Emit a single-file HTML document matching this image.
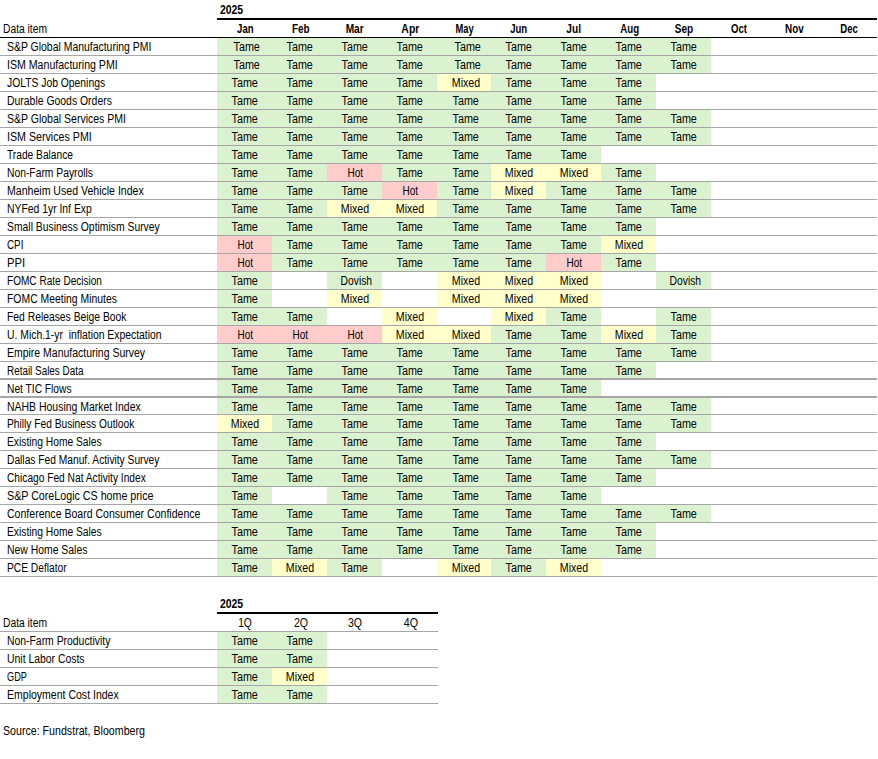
<!DOCTYPE html>
<html><head><meta charset="utf-8"><style>
html,body{margin:0;padding:0;background:#fff}
body{width:878px;height:759px;position:relative;overflow:hidden;font-family:"Liberation Sans",sans-serif;font-size:12px;color:#000}
.r{position:absolute}
.c,.l{position:absolute;height:17px;line-height:17px;white-space:nowrap}
.c{text-align:center}
.c span,.l span{display:inline-block}
.c span{transform-origin:50% 50%}
.l span{transform-origin:0 50%}
.b{font-weight:bold}
</style></head><body>
<div class="r" style="left:217px;top:18px;width:660px;height:2px;background:#000"></div>
<div class="r" style="left:0px;top:37px;width:877px;height:1px;background:#000"></div>
<div class="l b" style="left:220px;top:2px"><span style="transform:scaleX(0.8667)">2025</span></div>
<div class="l" style="left:3px;top:21px"><span style="transform:scaleX(0.8570)">Data item</span></div>
<div class="c b" style="left:218px;top:21px;width:55px"><span style="transform:scaleX(0.7988)">Jan</span></div>
<div class="c b" style="left:273px;top:21px;width:55px"><span style="transform:scaleX(0.8216)">Feb</span></div>
<div class="c b" style="left:327.5px;top:21px;width:55px"><span style="transform:scaleX(0.8476)">Mar</span></div>
<div class="c b" style="left:383px;top:21px;width:55px"><span style="transform:scaleX(0.8674)">Apr</span></div>
<div class="c b" style="left:438px;top:21px;width:54px"><span style="transform:scaleX(0.7772)">May</span></div>
<div class="c b" style="left:491px;top:21px;width:55px"><span style="transform:scaleX(0.7942)">Jun</span></div>
<div class="c b" style="left:546px;top:21px;width:55px"><span style="transform:scaleX(0.8427)">Jul</span></div>
<div class="c b" style="left:602px;top:21px;width:55px"><span style="transform:scaleX(0.8066)">Aug</span></div>
<div class="c b" style="left:657px;top:21px;width:55px"><span style="transform:scaleX(0.8351)">Sep</span></div>
<div class="c b" style="left:712px;top:21px;width:55px"><span style="transform:scaleX(0.7957)">Oct</span></div>
<div class="c b" style="left:767px;top:21px;width:55px"><span style="transform:scaleX(0.8251)">Nov</span></div>
<div class="c b" style="left:821px;top:21px;width:56px"><span style="transform:scaleX(0.7971)">Dec</span></div>
<div class="r" style="left:217px;top:38px;width:55px;height:17px;background:#daf2d0"></div>
<div class="r" style="left:272px;top:38px;width:55px;height:17px;background:#daf2d0"></div>
<div class="r" style="left:327px;top:38px;width:55px;height:17px;background:#daf2d0"></div>
<div class="r" style="left:382px;top:38px;width:55px;height:17px;background:#daf2d0"></div>
<div class="r" style="left:437px;top:38px;width:54px;height:17px;background:#daf2d0"></div>
<div class="r" style="left:491px;top:38px;width:55px;height:17px;background:#daf2d0"></div>
<div class="r" style="left:546px;top:38px;width:55px;height:17px;background:#daf2d0"></div>
<div class="r" style="left:601px;top:38px;width:55px;height:17px;background:#daf2d0"></div>
<div class="r" style="left:656px;top:38px;width:55px;height:17px;background:#daf2d0"></div>
<div class="r" style="left:0px;top:55px;width:877px;height:1px;background:#a6a6a6"></div>
<div class="r" style="left:217px;top:56px;width:55px;height:17px;background:#daf2d0"></div>
<div class="r" style="left:272px;top:56px;width:55px;height:17px;background:#daf2d0"></div>
<div class="r" style="left:327px;top:56px;width:55px;height:17px;background:#daf2d0"></div>
<div class="r" style="left:382px;top:56px;width:55px;height:17px;background:#daf2d0"></div>
<div class="r" style="left:437px;top:56px;width:54px;height:17px;background:#daf2d0"></div>
<div class="r" style="left:491px;top:56px;width:55px;height:17px;background:#daf2d0"></div>
<div class="r" style="left:546px;top:56px;width:55px;height:17px;background:#daf2d0"></div>
<div class="r" style="left:601px;top:56px;width:55px;height:17px;background:#daf2d0"></div>
<div class="r" style="left:656px;top:56px;width:55px;height:17px;background:#daf2d0"></div>
<div class="r" style="left:0px;top:73px;width:877px;height:1px;background:#a6a6a6"></div>
<div class="r" style="left:217px;top:74px;width:55px;height:17px;background:#daf2d0"></div>
<div class="r" style="left:272px;top:74px;width:55px;height:17px;background:#daf2d0"></div>
<div class="r" style="left:327px;top:74px;width:55px;height:17px;background:#daf2d0"></div>
<div class="r" style="left:382px;top:74px;width:55px;height:17px;background:#daf2d0"></div>
<div class="r" style="left:437px;top:74px;width:54px;height:17px;background:#ffffcc"></div>
<div class="r" style="left:491px;top:74px;width:55px;height:17px;background:#daf2d0"></div>
<div class="r" style="left:546px;top:74px;width:55px;height:17px;background:#daf2d0"></div>
<div class="r" style="left:601px;top:74px;width:55px;height:17px;background:#daf2d0"></div>
<div class="r" style="left:0px;top:91px;width:877px;height:1px;background:#a6a6a6"></div>
<div class="r" style="left:217px;top:92px;width:55px;height:17px;background:#daf2d0"></div>
<div class="r" style="left:272px;top:92px;width:55px;height:17px;background:#daf2d0"></div>
<div class="r" style="left:327px;top:92px;width:55px;height:17px;background:#daf2d0"></div>
<div class="r" style="left:382px;top:92px;width:55px;height:17px;background:#daf2d0"></div>
<div class="r" style="left:437px;top:92px;width:54px;height:17px;background:#daf2d0"></div>
<div class="r" style="left:491px;top:92px;width:55px;height:17px;background:#daf2d0"></div>
<div class="r" style="left:546px;top:92px;width:55px;height:17px;background:#daf2d0"></div>
<div class="r" style="left:601px;top:92px;width:55px;height:17px;background:#daf2d0"></div>
<div class="r" style="left:0px;top:109px;width:877px;height:1px;background:#a6a6a6"></div>
<div class="r" style="left:217px;top:110px;width:55px;height:17px;background:#daf2d0"></div>
<div class="r" style="left:272px;top:110px;width:55px;height:17px;background:#daf2d0"></div>
<div class="r" style="left:327px;top:110px;width:55px;height:17px;background:#daf2d0"></div>
<div class="r" style="left:382px;top:110px;width:55px;height:17px;background:#daf2d0"></div>
<div class="r" style="left:437px;top:110px;width:54px;height:17px;background:#daf2d0"></div>
<div class="r" style="left:491px;top:110px;width:55px;height:17px;background:#daf2d0"></div>
<div class="r" style="left:546px;top:110px;width:55px;height:17px;background:#daf2d0"></div>
<div class="r" style="left:601px;top:110px;width:55px;height:17px;background:#daf2d0"></div>
<div class="r" style="left:656px;top:110px;width:55px;height:17px;background:#daf2d0"></div>
<div class="r" style="left:0px;top:127px;width:877px;height:1px;background:#a6a6a6"></div>
<div class="r" style="left:217px;top:128px;width:55px;height:17px;background:#daf2d0"></div>
<div class="r" style="left:272px;top:128px;width:55px;height:17px;background:#daf2d0"></div>
<div class="r" style="left:327px;top:128px;width:55px;height:17px;background:#daf2d0"></div>
<div class="r" style="left:382px;top:128px;width:55px;height:17px;background:#daf2d0"></div>
<div class="r" style="left:437px;top:128px;width:54px;height:17px;background:#daf2d0"></div>
<div class="r" style="left:491px;top:128px;width:55px;height:17px;background:#daf2d0"></div>
<div class="r" style="left:546px;top:128px;width:55px;height:17px;background:#daf2d0"></div>
<div class="r" style="left:601px;top:128px;width:55px;height:17px;background:#daf2d0"></div>
<div class="r" style="left:656px;top:128px;width:55px;height:17px;background:#daf2d0"></div>
<div class="r" style="left:0px;top:145px;width:877px;height:1px;background:#a6a6a6"></div>
<div class="r" style="left:217px;top:146px;width:55px;height:17px;background:#daf2d0"></div>
<div class="r" style="left:272px;top:146px;width:55px;height:17px;background:#daf2d0"></div>
<div class="r" style="left:327px;top:146px;width:55px;height:17px;background:#daf2d0"></div>
<div class="r" style="left:382px;top:146px;width:55px;height:17px;background:#daf2d0"></div>
<div class="r" style="left:437px;top:146px;width:54px;height:17px;background:#daf2d0"></div>
<div class="r" style="left:491px;top:146px;width:55px;height:17px;background:#daf2d0"></div>
<div class="r" style="left:546px;top:146px;width:55px;height:17px;background:#daf2d0"></div>
<div class="r" style="left:0px;top:163px;width:877px;height:1px;background:#a6a6a6"></div>
<div class="r" style="left:217px;top:164px;width:55px;height:17px;background:#daf2d0"></div>
<div class="r" style="left:272px;top:164px;width:55px;height:17px;background:#daf2d0"></div>
<div class="r" style="left:327px;top:164px;width:55px;height:17px;background:#ffcccc"></div>
<div class="r" style="left:382px;top:164px;width:55px;height:17px;background:#daf2d0"></div>
<div class="r" style="left:437px;top:164px;width:54px;height:17px;background:#daf2d0"></div>
<div class="r" style="left:491px;top:164px;width:55px;height:17px;background:#ffffcc"></div>
<div class="r" style="left:546px;top:164px;width:55px;height:17px;background:#ffffcc"></div>
<div class="r" style="left:601px;top:164px;width:55px;height:17px;background:#daf2d0"></div>
<div class="r" style="left:0px;top:181px;width:877px;height:1px;background:#a6a6a6"></div>
<div class="r" style="left:217px;top:182px;width:55px;height:17px;background:#daf2d0"></div>
<div class="r" style="left:272px;top:182px;width:55px;height:17px;background:#daf2d0"></div>
<div class="r" style="left:327px;top:182px;width:55px;height:17px;background:#daf2d0"></div>
<div class="r" style="left:382px;top:182px;width:55px;height:17px;background:#ffcccc"></div>
<div class="r" style="left:437px;top:182px;width:54px;height:17px;background:#daf2d0"></div>
<div class="r" style="left:491px;top:182px;width:55px;height:17px;background:#ffffcc"></div>
<div class="r" style="left:546px;top:182px;width:55px;height:17px;background:#daf2d0"></div>
<div class="r" style="left:601px;top:182px;width:55px;height:17px;background:#daf2d0"></div>
<div class="r" style="left:656px;top:182px;width:55px;height:17px;background:#daf2d0"></div>
<div class="r" style="left:0px;top:199px;width:877px;height:1px;background:#a6a6a6"></div>
<div class="r" style="left:217px;top:200px;width:55px;height:17px;background:#daf2d0"></div>
<div class="r" style="left:272px;top:200px;width:55px;height:17px;background:#daf2d0"></div>
<div class="r" style="left:327px;top:200px;width:55px;height:17px;background:#ffffcc"></div>
<div class="r" style="left:382px;top:200px;width:55px;height:17px;background:#ffffcc"></div>
<div class="r" style="left:437px;top:200px;width:54px;height:17px;background:#daf2d0"></div>
<div class="r" style="left:491px;top:200px;width:55px;height:17px;background:#daf2d0"></div>
<div class="r" style="left:546px;top:200px;width:55px;height:17px;background:#daf2d0"></div>
<div class="r" style="left:601px;top:200px;width:55px;height:17px;background:#daf2d0"></div>
<div class="r" style="left:656px;top:200px;width:55px;height:17px;background:#daf2d0"></div>
<div class="r" style="left:0px;top:217px;width:877px;height:1px;background:#a6a6a6"></div>
<div class="r" style="left:217px;top:218px;width:55px;height:17px;background:#daf2d0"></div>
<div class="r" style="left:272px;top:218px;width:55px;height:17px;background:#daf2d0"></div>
<div class="r" style="left:327px;top:218px;width:55px;height:17px;background:#daf2d0"></div>
<div class="r" style="left:382px;top:218px;width:55px;height:17px;background:#daf2d0"></div>
<div class="r" style="left:437px;top:218px;width:54px;height:17px;background:#daf2d0"></div>
<div class="r" style="left:491px;top:218px;width:55px;height:17px;background:#daf2d0"></div>
<div class="r" style="left:546px;top:218px;width:55px;height:17px;background:#daf2d0"></div>
<div class="r" style="left:601px;top:218px;width:55px;height:17px;background:#daf2d0"></div>
<div class="r" style="left:0px;top:235px;width:877px;height:1px;background:#a6a6a6"></div>
<div class="r" style="left:217px;top:236px;width:55px;height:17px;background:#ffcccc"></div>
<div class="r" style="left:272px;top:236px;width:55px;height:17px;background:#daf2d0"></div>
<div class="r" style="left:327px;top:236px;width:55px;height:17px;background:#daf2d0"></div>
<div class="r" style="left:382px;top:236px;width:55px;height:17px;background:#daf2d0"></div>
<div class="r" style="left:437px;top:236px;width:54px;height:17px;background:#daf2d0"></div>
<div class="r" style="left:491px;top:236px;width:55px;height:17px;background:#daf2d0"></div>
<div class="r" style="left:546px;top:236px;width:55px;height:17px;background:#daf2d0"></div>
<div class="r" style="left:601px;top:236px;width:55px;height:17px;background:#ffffcc"></div>
<div class="r" style="left:0px;top:253px;width:877px;height:1px;background:#a6a6a6"></div>
<div class="r" style="left:217px;top:254px;width:55px;height:17px;background:#ffcccc"></div>
<div class="r" style="left:272px;top:254px;width:55px;height:17px;background:#daf2d0"></div>
<div class="r" style="left:327px;top:254px;width:55px;height:17px;background:#daf2d0"></div>
<div class="r" style="left:382px;top:254px;width:55px;height:17px;background:#daf2d0"></div>
<div class="r" style="left:437px;top:254px;width:54px;height:17px;background:#daf2d0"></div>
<div class="r" style="left:491px;top:254px;width:55px;height:17px;background:#daf2d0"></div>
<div class="r" style="left:546px;top:254px;width:55px;height:17px;background:#ffcccc"></div>
<div class="r" style="left:601px;top:254px;width:55px;height:17px;background:#daf2d0"></div>
<div class="r" style="left:0px;top:271px;width:877px;height:1px;background:#a6a6a6"></div>
<div class="r" style="left:217px;top:272px;width:55px;height:17px;background:#daf2d0"></div>
<div class="r" style="left:327px;top:272px;width:55px;height:17px;background:#daf2d0"></div>
<div class="r" style="left:437px;top:272px;width:54px;height:17px;background:#ffffcc"></div>
<div class="r" style="left:491px;top:272px;width:55px;height:17px;background:#ffffcc"></div>
<div class="r" style="left:546px;top:272px;width:55px;height:17px;background:#ffffcc"></div>
<div class="r" style="left:656px;top:272px;width:55px;height:17px;background:#daf2d0"></div>
<div class="r" style="left:0px;top:289px;width:877px;height:1px;background:#a6a6a6"></div>
<div class="r" style="left:217px;top:290px;width:55px;height:17px;background:#daf2d0"></div>
<div class="r" style="left:327px;top:290px;width:55px;height:17px;background:#ffffcc"></div>
<div class="r" style="left:437px;top:290px;width:54px;height:17px;background:#ffffcc"></div>
<div class="r" style="left:491px;top:290px;width:55px;height:17px;background:#ffffcc"></div>
<div class="r" style="left:546px;top:290px;width:55px;height:17px;background:#ffffcc"></div>
<div class="r" style="left:0px;top:307px;width:877px;height:1px;background:#a6a6a6"></div>
<div class="r" style="left:217px;top:308px;width:55px;height:17px;background:#daf2d0"></div>
<div class="r" style="left:272px;top:308px;width:55px;height:17px;background:#daf2d0"></div>
<div class="r" style="left:382px;top:308px;width:55px;height:17px;background:#ffffcc"></div>
<div class="r" style="left:491px;top:308px;width:55px;height:17px;background:#ffffcc"></div>
<div class="r" style="left:546px;top:308px;width:55px;height:17px;background:#daf2d0"></div>
<div class="r" style="left:656px;top:308px;width:55px;height:17px;background:#daf2d0"></div>
<div class="r" style="left:0px;top:325px;width:877px;height:1px;background:#a6a6a6"></div>
<div class="r" style="left:217px;top:326px;width:55px;height:17px;background:#ffcccc"></div>
<div class="r" style="left:272px;top:326px;width:55px;height:17px;background:#ffcccc"></div>
<div class="r" style="left:327px;top:326px;width:55px;height:17px;background:#ffcccc"></div>
<div class="r" style="left:382px;top:326px;width:55px;height:17px;background:#ffffcc"></div>
<div class="r" style="left:437px;top:326px;width:54px;height:17px;background:#ffffcc"></div>
<div class="r" style="left:491px;top:326px;width:55px;height:17px;background:#daf2d0"></div>
<div class="r" style="left:546px;top:326px;width:55px;height:17px;background:#daf2d0"></div>
<div class="r" style="left:601px;top:326px;width:55px;height:17px;background:#ffffcc"></div>
<div class="r" style="left:656px;top:326px;width:55px;height:17px;background:#daf2d0"></div>
<div class="r" style="left:0px;top:343px;width:877px;height:1px;background:#a6a6a6"></div>
<div class="r" style="left:217px;top:344px;width:55px;height:17px;background:#daf2d0"></div>
<div class="r" style="left:272px;top:344px;width:55px;height:17px;background:#daf2d0"></div>
<div class="r" style="left:327px;top:344px;width:55px;height:17px;background:#daf2d0"></div>
<div class="r" style="left:382px;top:344px;width:55px;height:17px;background:#daf2d0"></div>
<div class="r" style="left:437px;top:344px;width:54px;height:17px;background:#daf2d0"></div>
<div class="r" style="left:491px;top:344px;width:55px;height:17px;background:#daf2d0"></div>
<div class="r" style="left:546px;top:344px;width:55px;height:17px;background:#daf2d0"></div>
<div class="r" style="left:601px;top:344px;width:55px;height:17px;background:#daf2d0"></div>
<div class="r" style="left:656px;top:344px;width:55px;height:17px;background:#daf2d0"></div>
<div class="r" style="left:0px;top:361px;width:877px;height:1px;background:#a6a6a6"></div>
<div class="r" style="left:217px;top:362px;width:55px;height:16px;background:#daf2d0"></div>
<div class="r" style="left:272px;top:362px;width:55px;height:16px;background:#daf2d0"></div>
<div class="r" style="left:327px;top:362px;width:55px;height:16px;background:#daf2d0"></div>
<div class="r" style="left:382px;top:362px;width:55px;height:16px;background:#daf2d0"></div>
<div class="r" style="left:437px;top:362px;width:54px;height:16px;background:#daf2d0"></div>
<div class="r" style="left:491px;top:362px;width:55px;height:16px;background:#daf2d0"></div>
<div class="r" style="left:546px;top:362px;width:55px;height:16px;background:#daf2d0"></div>
<div class="r" style="left:601px;top:362px;width:55px;height:16px;background:#daf2d0"></div>
<div class="r" style="left:0px;top:378px;width:877px;height:2px;background:#a6a6a6"></div>
<div class="r" style="left:217px;top:380px;width:55px;height:16px;background:#daf2d0"></div>
<div class="r" style="left:272px;top:380px;width:55px;height:16px;background:#daf2d0"></div>
<div class="r" style="left:327px;top:380px;width:55px;height:16px;background:#daf2d0"></div>
<div class="r" style="left:382px;top:380px;width:55px;height:16px;background:#daf2d0"></div>
<div class="r" style="left:437px;top:380px;width:54px;height:16px;background:#daf2d0"></div>
<div class="r" style="left:491px;top:380px;width:55px;height:16px;background:#daf2d0"></div>
<div class="r" style="left:546px;top:380px;width:55px;height:16px;background:#daf2d0"></div>
<div class="r" style="left:0px;top:396px;width:877px;height:2px;background:#a6a6a6"></div>
<div class="r" style="left:217px;top:398px;width:55px;height:16px;background:#daf2d0"></div>
<div class="r" style="left:272px;top:398px;width:55px;height:16px;background:#daf2d0"></div>
<div class="r" style="left:327px;top:398px;width:55px;height:16px;background:#daf2d0"></div>
<div class="r" style="left:382px;top:398px;width:55px;height:16px;background:#daf2d0"></div>
<div class="r" style="left:437px;top:398px;width:54px;height:16px;background:#daf2d0"></div>
<div class="r" style="left:491px;top:398px;width:55px;height:16px;background:#daf2d0"></div>
<div class="r" style="left:546px;top:398px;width:55px;height:16px;background:#daf2d0"></div>
<div class="r" style="left:601px;top:398px;width:55px;height:16px;background:#daf2d0"></div>
<div class="r" style="left:656px;top:398px;width:55px;height:16px;background:#daf2d0"></div>
<div class="r" style="left:0px;top:414px;width:877px;height:1px;background:#a6a6a6"></div>
<div class="r" style="left:217px;top:415px;width:55px;height:17px;background:#ffffcc"></div>
<div class="r" style="left:272px;top:415px;width:55px;height:17px;background:#daf2d0"></div>
<div class="r" style="left:327px;top:415px;width:55px;height:17px;background:#daf2d0"></div>
<div class="r" style="left:382px;top:415px;width:55px;height:17px;background:#daf2d0"></div>
<div class="r" style="left:437px;top:415px;width:54px;height:17px;background:#daf2d0"></div>
<div class="r" style="left:491px;top:415px;width:55px;height:17px;background:#daf2d0"></div>
<div class="r" style="left:546px;top:415px;width:55px;height:17px;background:#daf2d0"></div>
<div class="r" style="left:601px;top:415px;width:55px;height:17px;background:#daf2d0"></div>
<div class="r" style="left:656px;top:415px;width:55px;height:17px;background:#daf2d0"></div>
<div class="r" style="left:0px;top:432px;width:877px;height:1px;background:#a6a6a6"></div>
<div class="r" style="left:217px;top:433px;width:55px;height:17px;background:#daf2d0"></div>
<div class="r" style="left:272px;top:433px;width:55px;height:17px;background:#daf2d0"></div>
<div class="r" style="left:327px;top:433px;width:55px;height:17px;background:#daf2d0"></div>
<div class="r" style="left:382px;top:433px;width:55px;height:17px;background:#daf2d0"></div>
<div class="r" style="left:437px;top:433px;width:54px;height:17px;background:#daf2d0"></div>
<div class="r" style="left:491px;top:433px;width:55px;height:17px;background:#daf2d0"></div>
<div class="r" style="left:546px;top:433px;width:55px;height:17px;background:#daf2d0"></div>
<div class="r" style="left:601px;top:433px;width:55px;height:17px;background:#daf2d0"></div>
<div class="r" style="left:0px;top:450px;width:877px;height:1px;background:#a6a6a6"></div>
<div class="r" style="left:217px;top:451px;width:55px;height:17px;background:#daf2d0"></div>
<div class="r" style="left:272px;top:451px;width:55px;height:17px;background:#daf2d0"></div>
<div class="r" style="left:327px;top:451px;width:55px;height:17px;background:#daf2d0"></div>
<div class="r" style="left:382px;top:451px;width:55px;height:17px;background:#daf2d0"></div>
<div class="r" style="left:437px;top:451px;width:54px;height:17px;background:#daf2d0"></div>
<div class="r" style="left:491px;top:451px;width:55px;height:17px;background:#daf2d0"></div>
<div class="r" style="left:546px;top:451px;width:55px;height:17px;background:#daf2d0"></div>
<div class="r" style="left:601px;top:451px;width:55px;height:17px;background:#daf2d0"></div>
<div class="r" style="left:656px;top:451px;width:55px;height:17px;background:#daf2d0"></div>
<div class="r" style="left:0px;top:468px;width:877px;height:1px;background:#a6a6a6"></div>
<div class="r" style="left:217px;top:469px;width:55px;height:17px;background:#daf2d0"></div>
<div class="r" style="left:272px;top:469px;width:55px;height:17px;background:#daf2d0"></div>
<div class="r" style="left:327px;top:469px;width:55px;height:17px;background:#daf2d0"></div>
<div class="r" style="left:382px;top:469px;width:55px;height:17px;background:#daf2d0"></div>
<div class="r" style="left:437px;top:469px;width:54px;height:17px;background:#daf2d0"></div>
<div class="r" style="left:491px;top:469px;width:55px;height:17px;background:#daf2d0"></div>
<div class="r" style="left:546px;top:469px;width:55px;height:17px;background:#daf2d0"></div>
<div class="r" style="left:601px;top:469px;width:55px;height:17px;background:#daf2d0"></div>
<div class="r" style="left:0px;top:486px;width:877px;height:1px;background:#a6a6a6"></div>
<div class="r" style="left:217px;top:487px;width:55px;height:17px;background:#daf2d0"></div>
<div class="r" style="left:327px;top:487px;width:55px;height:17px;background:#daf2d0"></div>
<div class="r" style="left:382px;top:487px;width:55px;height:17px;background:#daf2d0"></div>
<div class="r" style="left:437px;top:487px;width:54px;height:17px;background:#daf2d0"></div>
<div class="r" style="left:491px;top:487px;width:55px;height:17px;background:#daf2d0"></div>
<div class="r" style="left:546px;top:487px;width:55px;height:17px;background:#daf2d0"></div>
<div class="r" style="left:0px;top:504px;width:877px;height:1px;background:#a6a6a6"></div>
<div class="r" style="left:217px;top:505px;width:55px;height:17px;background:#daf2d0"></div>
<div class="r" style="left:272px;top:505px;width:55px;height:17px;background:#daf2d0"></div>
<div class="r" style="left:327px;top:505px;width:55px;height:17px;background:#daf2d0"></div>
<div class="r" style="left:382px;top:505px;width:55px;height:17px;background:#daf2d0"></div>
<div class="r" style="left:437px;top:505px;width:54px;height:17px;background:#daf2d0"></div>
<div class="r" style="left:491px;top:505px;width:55px;height:17px;background:#daf2d0"></div>
<div class="r" style="left:546px;top:505px;width:55px;height:17px;background:#daf2d0"></div>
<div class="r" style="left:601px;top:505px;width:55px;height:17px;background:#daf2d0"></div>
<div class="r" style="left:656px;top:505px;width:55px;height:17px;background:#daf2d0"></div>
<div class="r" style="left:0px;top:522px;width:877px;height:1px;background:#a6a6a6"></div>
<div class="r" style="left:217px;top:523px;width:55px;height:17px;background:#daf2d0"></div>
<div class="r" style="left:272px;top:523px;width:55px;height:17px;background:#daf2d0"></div>
<div class="r" style="left:327px;top:523px;width:55px;height:17px;background:#daf2d0"></div>
<div class="r" style="left:382px;top:523px;width:55px;height:17px;background:#daf2d0"></div>
<div class="r" style="left:437px;top:523px;width:54px;height:17px;background:#daf2d0"></div>
<div class="r" style="left:491px;top:523px;width:55px;height:17px;background:#daf2d0"></div>
<div class="r" style="left:546px;top:523px;width:55px;height:17px;background:#daf2d0"></div>
<div class="r" style="left:601px;top:523px;width:55px;height:17px;background:#daf2d0"></div>
<div class="r" style="left:0px;top:540px;width:877px;height:1px;background:#a6a6a6"></div>
<div class="r" style="left:217px;top:541px;width:55px;height:17px;background:#daf2d0"></div>
<div class="r" style="left:272px;top:541px;width:55px;height:17px;background:#daf2d0"></div>
<div class="r" style="left:327px;top:541px;width:55px;height:17px;background:#daf2d0"></div>
<div class="r" style="left:382px;top:541px;width:55px;height:17px;background:#daf2d0"></div>
<div class="r" style="left:437px;top:541px;width:54px;height:17px;background:#daf2d0"></div>
<div class="r" style="left:491px;top:541px;width:55px;height:17px;background:#daf2d0"></div>
<div class="r" style="left:546px;top:541px;width:55px;height:17px;background:#daf2d0"></div>
<div class="r" style="left:601px;top:541px;width:55px;height:17px;background:#daf2d0"></div>
<div class="r" style="left:0px;top:558px;width:877px;height:1px;background:#a6a6a6"></div>
<div class="r" style="left:217px;top:559px;width:55px;height:17px;background:#daf2d0"></div>
<div class="r" style="left:272px;top:559px;width:55px;height:17px;background:#ffffcc"></div>
<div class="r" style="left:327px;top:559px;width:55px;height:17px;background:#daf2d0"></div>
<div class="r" style="left:437px;top:559px;width:54px;height:17px;background:#ffffcc"></div>
<div class="r" style="left:491px;top:559px;width:55px;height:17px;background:#daf2d0"></div>
<div class="r" style="left:546px;top:559px;width:55px;height:17px;background:#ffffcc"></div>
<div class="r" style="left:0px;top:576px;width:877px;height:1px;background:#a6a6a6"></div>
<div class="l" style="left:7px;top:39px"><span style="transform:scaleX(0.8700)">S&amp;P Global Manufacturing PMI</span></div>
<div class="c" style="left:219.5px;top:39px;width:55px"><span style="transform:scaleX(0.8988)">Tame</span></div>
<div class="c" style="left:272.5px;top:39px;width:55px"><span style="transform:scaleX(0.8988)">Tame</span></div>
<div class="c" style="left:327.5px;top:39px;width:55px"><span style="transform:scaleX(0.8988)">Tame</span></div>
<div class="c" style="left:382.5px;top:39px;width:55px"><span style="transform:scaleX(0.8988)">Tame</span></div>
<div class="c" style="left:440.5px;top:39px;width:54px"><span style="transform:scaleX(0.8988)">Tame</span></div>
<div class="c" style="left:491.5px;top:39px;width:55px"><span style="transform:scaleX(0.8988)">Tame</span></div>
<div class="c" style="left:546.5px;top:39px;width:55px"><span style="transform:scaleX(0.8988)">Tame</span></div>
<div class="c" style="left:601.5px;top:39px;width:55px"><span style="transform:scaleX(0.8988)">Tame</span></div>
<div class="c" style="left:656.5px;top:39px;width:55px"><span style="transform:scaleX(0.8988)">Tame</span></div>
<div class="l" style="left:7px;top:57px"><span style="transform:scaleX(0.8830)">ISM Manufacturing PMI</span></div>
<div class="c" style="left:219.5px;top:57px;width:55px"><span style="transform:scaleX(0.8988)">Tame</span></div>
<div class="c" style="left:272.5px;top:57px;width:55px"><span style="transform:scaleX(0.8988)">Tame</span></div>
<div class="c" style="left:327.5px;top:57px;width:55px"><span style="transform:scaleX(0.8988)">Tame</span></div>
<div class="c" style="left:382.5px;top:57px;width:55px"><span style="transform:scaleX(0.8988)">Tame</span></div>
<div class="c" style="left:440.5px;top:57px;width:54px"><span style="transform:scaleX(0.8988)">Tame</span></div>
<div class="c" style="left:491.5px;top:57px;width:55px"><span style="transform:scaleX(0.8988)">Tame</span></div>
<div class="c" style="left:546.5px;top:57px;width:55px"><span style="transform:scaleX(0.8988)">Tame</span></div>
<div class="c" style="left:601.5px;top:57px;width:55px"><span style="transform:scaleX(0.8988)">Tame</span></div>
<div class="c" style="left:656.5px;top:57px;width:55px"><span style="transform:scaleX(0.8988)">Tame</span></div>
<div class="l" style="left:7px;top:75px"><span style="transform:scaleX(0.8613)">JOLTS Job Openings</span></div>
<div class="c" style="left:217.5px;top:75px;width:55px"><span style="transform:scaleX(0.8988)">Tame</span></div>
<div class="c" style="left:272.5px;top:75px;width:55px"><span style="transform:scaleX(0.8988)">Tame</span></div>
<div class="c" style="left:327.5px;top:75px;width:55px"><span style="transform:scaleX(0.8988)">Tame</span></div>
<div class="c" style="left:382.5px;top:75px;width:55px"><span style="transform:scaleX(0.8988)">Tame</span></div>
<div class="c" style="left:439px;top:75px;width:54px"><span style="transform:scaleX(0.8868)">Mixed</span></div>
<div class="c" style="left:491.5px;top:75px;width:55px"><span style="transform:scaleX(0.8988)">Tame</span></div>
<div class="c" style="left:546.5px;top:75px;width:55px"><span style="transform:scaleX(0.8988)">Tame</span></div>
<div class="c" style="left:601.5px;top:75px;width:55px"><span style="transform:scaleX(0.8988)">Tame</span></div>
<div class="l" style="left:7px;top:93px"><span style="transform:scaleX(0.8686)">Durable Goods Orders</span></div>
<div class="c" style="left:217.5px;top:93px;width:55px"><span style="transform:scaleX(0.8988)">Tame</span></div>
<div class="c" style="left:272.5px;top:93px;width:55px"><span style="transform:scaleX(0.8988)">Tame</span></div>
<div class="c" style="left:327.5px;top:93px;width:55px"><span style="transform:scaleX(0.8988)">Tame</span></div>
<div class="c" style="left:382.5px;top:93px;width:55px"><span style="transform:scaleX(0.8988)">Tame</span></div>
<div class="c" style="left:438.5px;top:93px;width:54px"><span style="transform:scaleX(0.8988)">Tame</span></div>
<div class="c" style="left:491.5px;top:93px;width:55px"><span style="transform:scaleX(0.8988)">Tame</span></div>
<div class="c" style="left:546.5px;top:93px;width:55px"><span style="transform:scaleX(0.8988)">Tame</span></div>
<div class="c" style="left:601.5px;top:93px;width:55px"><span style="transform:scaleX(0.8988)">Tame</span></div>
<div class="l" style="left:7px;top:111px"><span style="transform:scaleX(0.8758)">S&amp;P Global Services PMI</span></div>
<div class="c" style="left:217.5px;top:111px;width:55px"><span style="transform:scaleX(0.8988)">Tame</span></div>
<div class="c" style="left:272.5px;top:111px;width:55px"><span style="transform:scaleX(0.8988)">Tame</span></div>
<div class="c" style="left:327.5px;top:111px;width:55px"><span style="transform:scaleX(0.8988)">Tame</span></div>
<div class="c" style="left:382.5px;top:111px;width:55px"><span style="transform:scaleX(0.8988)">Tame</span></div>
<div class="c" style="left:438.5px;top:111px;width:54px"><span style="transform:scaleX(0.8988)">Tame</span></div>
<div class="c" style="left:491.5px;top:111px;width:55px"><span style="transform:scaleX(0.8988)">Tame</span></div>
<div class="c" style="left:546.5px;top:111px;width:55px"><span style="transform:scaleX(0.8988)">Tame</span></div>
<div class="c" style="left:601.5px;top:111px;width:55px"><span style="transform:scaleX(0.8988)">Tame</span></div>
<div class="c" style="left:656.5px;top:111px;width:55px"><span style="transform:scaleX(0.8988)">Tame</span></div>
<div class="l" style="left:7px;top:129px"><span style="transform:scaleX(0.8890)">ISM Services PMI</span></div>
<div class="c" style="left:217.5px;top:129px;width:55px"><span style="transform:scaleX(0.8988)">Tame</span></div>
<div class="c" style="left:272.5px;top:129px;width:55px"><span style="transform:scaleX(0.8988)">Tame</span></div>
<div class="c" style="left:327.5px;top:129px;width:55px"><span style="transform:scaleX(0.8988)">Tame</span></div>
<div class="c" style="left:382.5px;top:129px;width:55px"><span style="transform:scaleX(0.8988)">Tame</span></div>
<div class="c" style="left:438.5px;top:129px;width:54px"><span style="transform:scaleX(0.8988)">Tame</span></div>
<div class="c" style="left:491.5px;top:129px;width:55px"><span style="transform:scaleX(0.8988)">Tame</span></div>
<div class="c" style="left:546.5px;top:129px;width:55px"><span style="transform:scaleX(0.8988)">Tame</span></div>
<div class="c" style="left:601.5px;top:129px;width:55px"><span style="transform:scaleX(0.8988)">Tame</span></div>
<div class="c" style="left:656.5px;top:129px;width:55px"><span style="transform:scaleX(0.8988)">Tame</span></div>
<div class="l" style="left:7px;top:147px"><span style="transform:scaleX(0.8503)">Trade Balance</span></div>
<div class="c" style="left:217.5px;top:147px;width:55px"><span style="transform:scaleX(0.8988)">Tame</span></div>
<div class="c" style="left:272.5px;top:147px;width:55px"><span style="transform:scaleX(0.8988)">Tame</span></div>
<div class="c" style="left:327.5px;top:147px;width:55px"><span style="transform:scaleX(0.8988)">Tame</span></div>
<div class="c" style="left:382.5px;top:147px;width:55px"><span style="transform:scaleX(0.8988)">Tame</span></div>
<div class="c" style="left:438.5px;top:147px;width:54px"><span style="transform:scaleX(0.8988)">Tame</span></div>
<div class="c" style="left:491.5px;top:147px;width:55px"><span style="transform:scaleX(0.8988)">Tame</span></div>
<div class="c" style="left:546.5px;top:147px;width:55px"><span style="transform:scaleX(0.8988)">Tame</span></div>
<div class="l" style="left:7px;top:165px"><span style="transform:scaleX(0.8598)">Non-Farm Payrolls</span></div>
<div class="c" style="left:217.5px;top:165px;width:55px"><span style="transform:scaleX(0.8988)">Tame</span></div>
<div class="c" style="left:272.5px;top:165px;width:55px"><span style="transform:scaleX(0.8988)">Tame</span></div>
<div class="c" style="left:327.5px;top:165px;width:55px"><span style="transform:scaleX(0.8330)">Hot</span></div>
<div class="c" style="left:382.5px;top:165px;width:55px"><span style="transform:scaleX(0.8988)">Tame</span></div>
<div class="c" style="left:438.5px;top:165px;width:54px"><span style="transform:scaleX(0.8988)">Tame</span></div>
<div class="c" style="left:492px;top:165px;width:55px"><span style="transform:scaleX(0.8868)">Mixed</span></div>
<div class="c" style="left:547px;top:165px;width:55px"><span style="transform:scaleX(0.8868)">Mixed</span></div>
<div class="c" style="left:601.5px;top:165px;width:55px"><span style="transform:scaleX(0.8988)">Tame</span></div>
<div class="l" style="left:7px;top:183px"><span style="transform:scaleX(0.8799)">Manheim Used Vehicle Index</span></div>
<div class="c" style="left:217.5px;top:183px;width:55px"><span style="transform:scaleX(0.8988)">Tame</span></div>
<div class="c" style="left:272.5px;top:183px;width:55px"><span style="transform:scaleX(0.8988)">Tame</span></div>
<div class="c" style="left:327.5px;top:183px;width:55px"><span style="transform:scaleX(0.8988)">Tame</span></div>
<div class="c" style="left:382.5px;top:183px;width:55px"><span style="transform:scaleX(0.8330)">Hot</span></div>
<div class="c" style="left:438.5px;top:183px;width:54px"><span style="transform:scaleX(0.8988)">Tame</span></div>
<div class="c" style="left:492px;top:183px;width:55px"><span style="transform:scaleX(0.8868)">Mixed</span></div>
<div class="c" style="left:546.5px;top:183px;width:55px"><span style="transform:scaleX(0.8988)">Tame</span></div>
<div class="c" style="left:601.5px;top:183px;width:55px"><span style="transform:scaleX(0.8988)">Tame</span></div>
<div class="c" style="left:656.5px;top:183px;width:55px"><span style="transform:scaleX(0.8988)">Tame</span></div>
<div class="l" style="left:7px;top:201px"><span style="transform:scaleX(0.8645)">NYFed 1yr Inf Exp</span></div>
<div class="c" style="left:217.5px;top:201px;width:55px"><span style="transform:scaleX(0.8988)">Tame</span></div>
<div class="c" style="left:272.5px;top:201px;width:55px"><span style="transform:scaleX(0.8988)">Tame</span></div>
<div class="c" style="left:328px;top:201px;width:55px"><span style="transform:scaleX(0.8868)">Mixed</span></div>
<div class="c" style="left:383px;top:201px;width:55px"><span style="transform:scaleX(0.8868)">Mixed</span></div>
<div class="c" style="left:438.5px;top:201px;width:54px"><span style="transform:scaleX(0.8988)">Tame</span></div>
<div class="c" style="left:491.5px;top:201px;width:55px"><span style="transform:scaleX(0.8988)">Tame</span></div>
<div class="c" style="left:546.5px;top:201px;width:55px"><span style="transform:scaleX(0.8988)">Tame</span></div>
<div class="c" style="left:601.5px;top:201px;width:55px"><span style="transform:scaleX(0.8988)">Tame</span></div>
<div class="c" style="left:656.5px;top:201px;width:55px"><span style="transform:scaleX(0.8988)">Tame</span></div>
<div class="l" style="left:7px;top:219px"><span style="transform:scaleX(0.8644)">Small Business Optimism Survey</span></div>
<div class="c" style="left:217.5px;top:219px;width:55px"><span style="transform:scaleX(0.8988)">Tame</span></div>
<div class="c" style="left:272.5px;top:219px;width:55px"><span style="transform:scaleX(0.8988)">Tame</span></div>
<div class="c" style="left:327.5px;top:219px;width:55px"><span style="transform:scaleX(0.8988)">Tame</span></div>
<div class="c" style="left:382.5px;top:219px;width:55px"><span style="transform:scaleX(0.8988)">Tame</span></div>
<div class="c" style="left:438.5px;top:219px;width:54px"><span style="transform:scaleX(0.8988)">Tame</span></div>
<div class="c" style="left:491.5px;top:219px;width:55px"><span style="transform:scaleX(0.8988)">Tame</span></div>
<div class="c" style="left:546.5px;top:219px;width:55px"><span style="transform:scaleX(0.8988)">Tame</span></div>
<div class="c" style="left:601.5px;top:219px;width:55px"><span style="transform:scaleX(0.8988)">Tame</span></div>
<div class="l" style="left:7px;top:237px"><span style="transform:scaleX(0.8200)">CPI</span></div>
<div class="c" style="left:217.5px;top:237px;width:55px"><span style="transform:scaleX(0.8330)">Hot</span></div>
<div class="c" style="left:272.5px;top:237px;width:55px"><span style="transform:scaleX(0.8988)">Tame</span></div>
<div class="c" style="left:327.5px;top:237px;width:55px"><span style="transform:scaleX(0.8988)">Tame</span></div>
<div class="c" style="left:382.5px;top:237px;width:55px"><span style="transform:scaleX(0.8988)">Tame</span></div>
<div class="c" style="left:438.5px;top:237px;width:54px"><span style="transform:scaleX(0.8988)">Tame</span></div>
<div class="c" style="left:491.5px;top:237px;width:55px"><span style="transform:scaleX(0.8988)">Tame</span></div>
<div class="c" style="left:546.5px;top:237px;width:55px"><span style="transform:scaleX(0.8988)">Tame</span></div>
<div class="c" style="left:602px;top:237px;width:55px"><span style="transform:scaleX(0.8868)">Mixed</span></div>
<div class="l" style="left:7px;top:255px"><span style="transform:scaleX(0.9371)">PPI</span></div>
<div class="c" style="left:217.5px;top:255px;width:55px"><span style="transform:scaleX(0.8330)">Hot</span></div>
<div class="c" style="left:272.5px;top:255px;width:55px"><span style="transform:scaleX(0.8988)">Tame</span></div>
<div class="c" style="left:327.5px;top:255px;width:55px"><span style="transform:scaleX(0.8988)">Tame</span></div>
<div class="c" style="left:382.5px;top:255px;width:55px"><span style="transform:scaleX(0.8988)">Tame</span></div>
<div class="c" style="left:438.5px;top:255px;width:54px"><span style="transform:scaleX(0.8988)">Tame</span></div>
<div class="c" style="left:491.5px;top:255px;width:55px"><span style="transform:scaleX(0.8988)">Tame</span></div>
<div class="c" style="left:546.5px;top:255px;width:55px"><span style="transform:scaleX(0.8330)">Hot</span></div>
<div class="c" style="left:601.5px;top:255px;width:55px"><span style="transform:scaleX(0.8988)">Tame</span></div>
<div class="l" style="left:7px;top:273px"><span style="transform:scaleX(0.8375)">FOMC Rate Decision</span></div>
<div class="c" style="left:217.5px;top:273px;width:55px"><span style="transform:scaleX(0.8988)">Tame</span></div>
<div class="c" style="left:328.5px;top:273px;width:55px"><span style="transform:scaleX(0.8586)">Dovish</span></div>
<div class="c" style="left:439px;top:273px;width:54px"><span style="transform:scaleX(0.8868)">Mixed</span></div>
<div class="c" style="left:492px;top:273px;width:55px"><span style="transform:scaleX(0.8868)">Mixed</span></div>
<div class="c" style="left:547px;top:273px;width:55px"><span style="transform:scaleX(0.8868)">Mixed</span></div>
<div class="c" style="left:657.5px;top:273px;width:55px"><span style="transform:scaleX(0.8586)">Dovish</span></div>
<div class="l" style="left:7px;top:291px"><span style="transform:scaleX(0.8675)">FOMC Meeting Minutes</span></div>
<div class="c" style="left:217.5px;top:291px;width:55px"><span style="transform:scaleX(0.8988)">Tame</span></div>
<div class="c" style="left:328px;top:291px;width:55px"><span style="transform:scaleX(0.8868)">Mixed</span></div>
<div class="c" style="left:439px;top:291px;width:54px"><span style="transform:scaleX(0.8868)">Mixed</span></div>
<div class="c" style="left:492px;top:291px;width:55px"><span style="transform:scaleX(0.8868)">Mixed</span></div>
<div class="c" style="left:547px;top:291px;width:55px"><span style="transform:scaleX(0.8868)">Mixed</span></div>
<div class="l" style="left:7px;top:309px"><span style="transform:scaleX(0.8613)">Fed Releases Beige Book</span></div>
<div class="c" style="left:217.5px;top:309px;width:55px"><span style="transform:scaleX(0.8988)">Tame</span></div>
<div class="c" style="left:272.5px;top:309px;width:55px"><span style="transform:scaleX(0.8988)">Tame</span></div>
<div class="c" style="left:383px;top:309px;width:55px"><span style="transform:scaleX(0.8868)">Mixed</span></div>
<div class="c" style="left:492px;top:309px;width:55px"><span style="transform:scaleX(0.8868)">Mixed</span></div>
<div class="c" style="left:546.5px;top:309px;width:55px"><span style="transform:scaleX(0.8988)">Tame</span></div>
<div class="c" style="left:656.5px;top:309px;width:55px"><span style="transform:scaleX(0.8988)">Tame</span></div>
<div class="l" style="left:7px;top:327px"><span style="transform:scaleX(0.8650)">U. Mich.1-yr  inflation Expectation</span></div>
<div class="c" style="left:217.5px;top:327px;width:55px"><span style="transform:scaleX(0.8330)">Hot</span></div>
<div class="c" style="left:272.5px;top:327px;width:55px"><span style="transform:scaleX(0.8330)">Hot</span></div>
<div class="c" style="left:327.5px;top:327px;width:55px"><span style="transform:scaleX(0.8330)">Hot</span></div>
<div class="c" style="left:383px;top:327px;width:55px"><span style="transform:scaleX(0.8868)">Mixed</span></div>
<div class="c" style="left:439px;top:327px;width:54px"><span style="transform:scaleX(0.8868)">Mixed</span></div>
<div class="c" style="left:491.5px;top:327px;width:55px"><span style="transform:scaleX(0.8988)">Tame</span></div>
<div class="c" style="left:546.5px;top:327px;width:55px"><span style="transform:scaleX(0.8988)">Tame</span></div>
<div class="c" style="left:602px;top:327px;width:55px"><span style="transform:scaleX(0.8868)">Mixed</span></div>
<div class="c" style="left:656.5px;top:327px;width:55px"><span style="transform:scaleX(0.8988)">Tame</span></div>
<div class="l" style="left:7px;top:345px"><span style="transform:scaleX(0.8732)">Empire Manufacturing Survey</span></div>
<div class="c" style="left:217.5px;top:345px;width:55px"><span style="transform:scaleX(0.8988)">Tame</span></div>
<div class="c" style="left:272.5px;top:345px;width:55px"><span style="transform:scaleX(0.8988)">Tame</span></div>
<div class="c" style="left:327.5px;top:345px;width:55px"><span style="transform:scaleX(0.8988)">Tame</span></div>
<div class="c" style="left:382.5px;top:345px;width:55px"><span style="transform:scaleX(0.8988)">Tame</span></div>
<div class="c" style="left:438.5px;top:345px;width:54px"><span style="transform:scaleX(0.8988)">Tame</span></div>
<div class="c" style="left:491.5px;top:345px;width:55px"><span style="transform:scaleX(0.8988)">Tame</span></div>
<div class="c" style="left:546.5px;top:345px;width:55px"><span style="transform:scaleX(0.8988)">Tame</span></div>
<div class="c" style="left:601.5px;top:345px;width:55px"><span style="transform:scaleX(0.8988)">Tame</span></div>
<div class="c" style="left:656.5px;top:345px;width:55px"><span style="transform:scaleX(0.8988)">Tame</span></div>
<div class="l" style="left:7px;top:363px"><span style="transform:scaleX(0.8249)">Retail Sales Data</span></div>
<div class="c" style="left:217.5px;top:363px;width:55px"><span style="transform:scaleX(0.8988)">Tame</span></div>
<div class="c" style="left:272.5px;top:363px;width:55px"><span style="transform:scaleX(0.8988)">Tame</span></div>
<div class="c" style="left:327.5px;top:363px;width:55px"><span style="transform:scaleX(0.8988)">Tame</span></div>
<div class="c" style="left:382.5px;top:363px;width:55px"><span style="transform:scaleX(0.8988)">Tame</span></div>
<div class="c" style="left:438.5px;top:363px;width:54px"><span style="transform:scaleX(0.8988)">Tame</span></div>
<div class="c" style="left:491.5px;top:363px;width:55px"><span style="transform:scaleX(0.8988)">Tame</span></div>
<div class="c" style="left:546.5px;top:363px;width:55px"><span style="transform:scaleX(0.8988)">Tame</span></div>
<div class="c" style="left:601.5px;top:363px;width:55px"><span style="transform:scaleX(0.8988)">Tame</span></div>
<div class="l" style="left:7px;top:381px"><span style="transform:scaleX(0.8513)">Net TIC Flows</span></div>
<div class="c" style="left:217.5px;top:381px;width:55px"><span style="transform:scaleX(0.8988)">Tame</span></div>
<div class="c" style="left:272.5px;top:381px;width:55px"><span style="transform:scaleX(0.8988)">Tame</span></div>
<div class="c" style="left:327.5px;top:381px;width:55px"><span style="transform:scaleX(0.8988)">Tame</span></div>
<div class="c" style="left:382.5px;top:381px;width:55px"><span style="transform:scaleX(0.8988)">Tame</span></div>
<div class="c" style="left:438.5px;top:381px;width:54px"><span style="transform:scaleX(0.8988)">Tame</span></div>
<div class="c" style="left:491.5px;top:381px;width:55px"><span style="transform:scaleX(0.8988)">Tame</span></div>
<div class="c" style="left:546.5px;top:381px;width:55px"><span style="transform:scaleX(0.8988)">Tame</span></div>
<div class="l" style="left:7px;top:399px"><span style="transform:scaleX(0.8715)">NAHB Housing Market Index</span></div>
<div class="c" style="left:217.5px;top:399px;width:55px"><span style="transform:scaleX(0.8988)">Tame</span></div>
<div class="c" style="left:272.5px;top:399px;width:55px"><span style="transform:scaleX(0.8988)">Tame</span></div>
<div class="c" style="left:327.5px;top:399px;width:55px"><span style="transform:scaleX(0.8988)">Tame</span></div>
<div class="c" style="left:382.5px;top:399px;width:55px"><span style="transform:scaleX(0.8988)">Tame</span></div>
<div class="c" style="left:438.5px;top:399px;width:54px"><span style="transform:scaleX(0.8988)">Tame</span></div>
<div class="c" style="left:491.5px;top:399px;width:55px"><span style="transform:scaleX(0.8988)">Tame</span></div>
<div class="c" style="left:546.5px;top:399px;width:55px"><span style="transform:scaleX(0.8988)">Tame</span></div>
<div class="c" style="left:601.5px;top:399px;width:55px"><span style="transform:scaleX(0.8988)">Tame</span></div>
<div class="c" style="left:656.5px;top:399px;width:55px"><span style="transform:scaleX(0.8988)">Tame</span></div>
<div class="l" style="left:7px;top:416px"><span style="transform:scaleX(0.8520)">Philly Fed Business Outlook</span></div>
<div class="c" style="left:218px;top:416px;width:55px"><span style="transform:scaleX(0.8868)">Mixed</span></div>
<div class="c" style="left:272.5px;top:416px;width:55px"><span style="transform:scaleX(0.8988)">Tame</span></div>
<div class="c" style="left:327.5px;top:416px;width:55px"><span style="transform:scaleX(0.8988)">Tame</span></div>
<div class="c" style="left:382.5px;top:416px;width:55px"><span style="transform:scaleX(0.8988)">Tame</span></div>
<div class="c" style="left:438.5px;top:416px;width:54px"><span style="transform:scaleX(0.8988)">Tame</span></div>
<div class="c" style="left:491.5px;top:416px;width:55px"><span style="transform:scaleX(0.8988)">Tame</span></div>
<div class="c" style="left:546.5px;top:416px;width:55px"><span style="transform:scaleX(0.8988)">Tame</span></div>
<div class="c" style="left:601.5px;top:416px;width:55px"><span style="transform:scaleX(0.8988)">Tame</span></div>
<div class="c" style="left:656.5px;top:416px;width:55px"><span style="transform:scaleX(0.8988)">Tame</span></div>
<div class="l" style="left:7px;top:434px"><span style="transform:scaleX(0.8551)">Existing Home Sales</span></div>
<div class="c" style="left:217.5px;top:434px;width:55px"><span style="transform:scaleX(0.8988)">Tame</span></div>
<div class="c" style="left:272.5px;top:434px;width:55px"><span style="transform:scaleX(0.8988)">Tame</span></div>
<div class="c" style="left:327.5px;top:434px;width:55px"><span style="transform:scaleX(0.8988)">Tame</span></div>
<div class="c" style="left:382.5px;top:434px;width:55px"><span style="transform:scaleX(0.8988)">Tame</span></div>
<div class="c" style="left:438.5px;top:434px;width:54px"><span style="transform:scaleX(0.8988)">Tame</span></div>
<div class="c" style="left:491.5px;top:434px;width:55px"><span style="transform:scaleX(0.8988)">Tame</span></div>
<div class="c" style="left:546.5px;top:434px;width:55px"><span style="transform:scaleX(0.8988)">Tame</span></div>
<div class="c" style="left:601.5px;top:434px;width:55px"><span style="transform:scaleX(0.8988)">Tame</span></div>
<div class="l" style="left:7px;top:452px"><span style="transform:scaleX(0.8528)">Dallas Fed Manuf. Activity Survey</span></div>
<div class="c" style="left:217.5px;top:452px;width:55px"><span style="transform:scaleX(0.8988)">Tame</span></div>
<div class="c" style="left:272.5px;top:452px;width:55px"><span style="transform:scaleX(0.8988)">Tame</span></div>
<div class="c" style="left:327.5px;top:452px;width:55px"><span style="transform:scaleX(0.8988)">Tame</span></div>
<div class="c" style="left:382.5px;top:452px;width:55px"><span style="transform:scaleX(0.8988)">Tame</span></div>
<div class="c" style="left:438.5px;top:452px;width:54px"><span style="transform:scaleX(0.8988)">Tame</span></div>
<div class="c" style="left:491.5px;top:452px;width:55px"><span style="transform:scaleX(0.8988)">Tame</span></div>
<div class="c" style="left:546.5px;top:452px;width:55px"><span style="transform:scaleX(0.8988)">Tame</span></div>
<div class="c" style="left:601.5px;top:452px;width:55px"><span style="transform:scaleX(0.8988)">Tame</span></div>
<div class="c" style="left:656.5px;top:452px;width:55px"><span style="transform:scaleX(0.8988)">Tame</span></div>
<div class="l" style="left:7px;top:470px"><span style="transform:scaleX(0.8494)">Chicago Fed Nat Activity Index</span></div>
<div class="c" style="left:217.5px;top:470px;width:55px"><span style="transform:scaleX(0.8988)">Tame</span></div>
<div class="c" style="left:272.5px;top:470px;width:55px"><span style="transform:scaleX(0.8988)">Tame</span></div>
<div class="c" style="left:327.5px;top:470px;width:55px"><span style="transform:scaleX(0.8988)">Tame</span></div>
<div class="c" style="left:382.5px;top:470px;width:55px"><span style="transform:scaleX(0.8988)">Tame</span></div>
<div class="c" style="left:438.5px;top:470px;width:54px"><span style="transform:scaleX(0.8988)">Tame</span></div>
<div class="c" style="left:491.5px;top:470px;width:55px"><span style="transform:scaleX(0.8988)">Tame</span></div>
<div class="c" style="left:546.5px;top:470px;width:55px"><span style="transform:scaleX(0.8988)">Tame</span></div>
<div class="c" style="left:601.5px;top:470px;width:55px"><span style="transform:scaleX(0.8988)">Tame</span></div>
<div class="l" style="left:7px;top:488px"><span style="transform:scaleX(0.8903)">S&amp;P CoreLogic CS home price</span></div>
<div class="c" style="left:217.5px;top:488px;width:55px"><span style="transform:scaleX(0.8988)">Tame</span></div>
<div class="c" style="left:327.5px;top:488px;width:55px"><span style="transform:scaleX(0.8988)">Tame</span></div>
<div class="c" style="left:382.5px;top:488px;width:55px"><span style="transform:scaleX(0.8988)">Tame</span></div>
<div class="c" style="left:438.5px;top:488px;width:54px"><span style="transform:scaleX(0.8988)">Tame</span></div>
<div class="c" style="left:491.5px;top:488px;width:55px"><span style="transform:scaleX(0.8988)">Tame</span></div>
<div class="c" style="left:546.5px;top:488px;width:55px"><span style="transform:scaleX(0.8988)">Tame</span></div>
<div class="l" style="left:7px;top:506px"><span style="transform:scaleX(0.8785)">Conference Board Consumer Confidence</span></div>
<div class="c" style="left:217.5px;top:506px;width:55px"><span style="transform:scaleX(0.8988)">Tame</span></div>
<div class="c" style="left:272.5px;top:506px;width:55px"><span style="transform:scaleX(0.8988)">Tame</span></div>
<div class="c" style="left:327.5px;top:506px;width:55px"><span style="transform:scaleX(0.8988)">Tame</span></div>
<div class="c" style="left:382.5px;top:506px;width:55px"><span style="transform:scaleX(0.8988)">Tame</span></div>
<div class="c" style="left:438.5px;top:506px;width:54px"><span style="transform:scaleX(0.8988)">Tame</span></div>
<div class="c" style="left:491.5px;top:506px;width:55px"><span style="transform:scaleX(0.8988)">Tame</span></div>
<div class="c" style="left:546.5px;top:506px;width:55px"><span style="transform:scaleX(0.8988)">Tame</span></div>
<div class="c" style="left:601.5px;top:506px;width:55px"><span style="transform:scaleX(0.8988)">Tame</span></div>
<div class="c" style="left:656.5px;top:506px;width:55px"><span style="transform:scaleX(0.8988)">Tame</span></div>
<div class="l" style="left:7px;top:524px"><span style="transform:scaleX(0.8551)">Existing Home Sales</span></div>
<div class="c" style="left:217.5px;top:524px;width:55px"><span style="transform:scaleX(0.8988)">Tame</span></div>
<div class="c" style="left:272.5px;top:524px;width:55px"><span style="transform:scaleX(0.8988)">Tame</span></div>
<div class="c" style="left:327.5px;top:524px;width:55px"><span style="transform:scaleX(0.8988)">Tame</span></div>
<div class="c" style="left:382.5px;top:524px;width:55px"><span style="transform:scaleX(0.8988)">Tame</span></div>
<div class="c" style="left:438.5px;top:524px;width:54px"><span style="transform:scaleX(0.8988)">Tame</span></div>
<div class="c" style="left:491.5px;top:524px;width:55px"><span style="transform:scaleX(0.8988)">Tame</span></div>
<div class="c" style="left:546.5px;top:524px;width:55px"><span style="transform:scaleX(0.8988)">Tame</span></div>
<div class="c" style="left:601.5px;top:524px;width:55px"><span style="transform:scaleX(0.8988)">Tame</span></div>
<div class="l" style="left:7px;top:542px"><span style="transform:scaleX(0.8673)">New Home Sales</span></div>
<div class="c" style="left:217.5px;top:542px;width:55px"><span style="transform:scaleX(0.8988)">Tame</span></div>
<div class="c" style="left:272.5px;top:542px;width:55px"><span style="transform:scaleX(0.8988)">Tame</span></div>
<div class="c" style="left:327.5px;top:542px;width:55px"><span style="transform:scaleX(0.8988)">Tame</span></div>
<div class="c" style="left:382.5px;top:542px;width:55px"><span style="transform:scaleX(0.8988)">Tame</span></div>
<div class="c" style="left:438.5px;top:542px;width:54px"><span style="transform:scaleX(0.8988)">Tame</span></div>
<div class="c" style="left:491.5px;top:542px;width:55px"><span style="transform:scaleX(0.8988)">Tame</span></div>
<div class="c" style="left:546.5px;top:542px;width:55px"><span style="transform:scaleX(0.8988)">Tame</span></div>
<div class="c" style="left:601.5px;top:542px;width:55px"><span style="transform:scaleX(0.8988)">Tame</span></div>
<div class="l" style="left:7px;top:560px"><span style="transform:scaleX(0.8519)">PCE Deflator</span></div>
<div class="c" style="left:217.5px;top:560px;width:55px"><span style="transform:scaleX(0.8988)">Tame</span></div>
<div class="c" style="left:273px;top:560px;width:55px"><span style="transform:scaleX(0.8868)">Mixed</span></div>
<div class="c" style="left:327.5px;top:560px;width:55px"><span style="transform:scaleX(0.8988)">Tame</span></div>
<div class="c" style="left:439px;top:560px;width:54px"><span style="transform:scaleX(0.8868)">Mixed</span></div>
<div class="c" style="left:491.5px;top:560px;width:55px"><span style="transform:scaleX(0.8988)">Tame</span></div>
<div class="c" style="left:547px;top:560px;width:55px"><span style="transform:scaleX(0.8868)">Mixed</span></div>
<div class="r" style="left:217px;top:612px;width:221px;height:2px;background:#000"></div>
<div class="r" style="left:0px;top:631px;width:438px;height:1px;background:#a6a6a6"></div>
<div class="l b" style="left:220px;top:596px"><span style="transform:scaleX(0.8667)">2025</span></div>
<div class="l" style="left:3px;top:615px"><span style="transform:scaleX(0.8570)">Data item</span></div>
<div class="c" style="left:218px;top:615px;width:55px"><span style="transform:scaleX(0.8554)">1Q</span></div>
<div class="c" style="left:273.5px;top:615px;width:55px"><span style="transform:scaleX(0.8830)">2Q</span></div>
<div class="c" style="left:328px;top:615px;width:55px"><span style="transform:scaleX(0.8807)">3Q</span></div>
<div class="c" style="left:383.5px;top:615px;width:55px"><span style="transform:scaleX(0.8929)">4Q</span></div>
<div class="r" style="left:217px;top:632px;width:55px;height:17px;background:#daf2d0"></div>
<div class="r" style="left:272px;top:632px;width:55px;height:17px;background:#daf2d0"></div>
<div class="r" style="left:0px;top:649px;width:438px;height:1px;background:#a6a6a6"></div>
<div class="l" style="left:7px;top:633px"><span style="transform:scaleX(0.8660)">Non-Farm Productivity</span></div>
<div class="c" style="left:217.5px;top:633px;width:55px"><span style="transform:scaleX(0.8988)">Tame</span></div>
<div class="c" style="left:272.5px;top:633px;width:55px"><span style="transform:scaleX(0.8988)">Tame</span></div>
<div class="r" style="left:217px;top:650px;width:55px;height:17px;background:#daf2d0"></div>
<div class="r" style="left:272px;top:650px;width:55px;height:17px;background:#daf2d0"></div>
<div class="r" style="left:0px;top:667px;width:438px;height:1px;background:#a6a6a6"></div>
<div class="l" style="left:7px;top:651px"><span style="transform:scaleX(0.8679)">Unit Labor Costs</span></div>
<div class="c" style="left:217.5px;top:651px;width:55px"><span style="transform:scaleX(0.8988)">Tame</span></div>
<div class="c" style="left:272.5px;top:651px;width:55px"><span style="transform:scaleX(0.8988)">Tame</span></div>
<div class="r" style="left:217px;top:668px;width:55px;height:17px;background:#daf2d0"></div>
<div class="r" style="left:272px;top:668px;width:55px;height:17px;background:#ffffcc"></div>
<div class="r" style="left:0px;top:685px;width:438px;height:1px;background:#a6a6a6"></div>
<div class="l" style="left:7px;top:669px"><span style="transform:scaleX(0.7646)">GDP</span></div>
<div class="c" style="left:217.5px;top:669px;width:55px"><span style="transform:scaleX(0.8988)">Tame</span></div>
<div class="c" style="left:273px;top:669px;width:55px"><span style="transform:scaleX(0.8868)">Mixed</span></div>
<div class="r" style="left:217px;top:686px;width:55px;height:17px;background:#daf2d0"></div>
<div class="r" style="left:272px;top:686px;width:55px;height:17px;background:#daf2d0"></div>
<div class="r" style="left:0px;top:703px;width:438px;height:1px;background:#a6a6a6"></div>
<div class="l" style="left:7px;top:687px"><span style="transform:scaleX(0.8770)">Employment Cost Index</span></div>
<div class="c" style="left:217.5px;top:687px;width:55px"><span style="transform:scaleX(0.8988)">Tame</span></div>
<div class="c" style="left:272.5px;top:687px;width:55px"><span style="transform:scaleX(0.8988)">Tame</span></div>
<div class="l" style="left:3px;top:723px"><span style="transform:scaleX(0.8866)">Source: Fundstrat, Bloomberg</span></div>
</body></html>
